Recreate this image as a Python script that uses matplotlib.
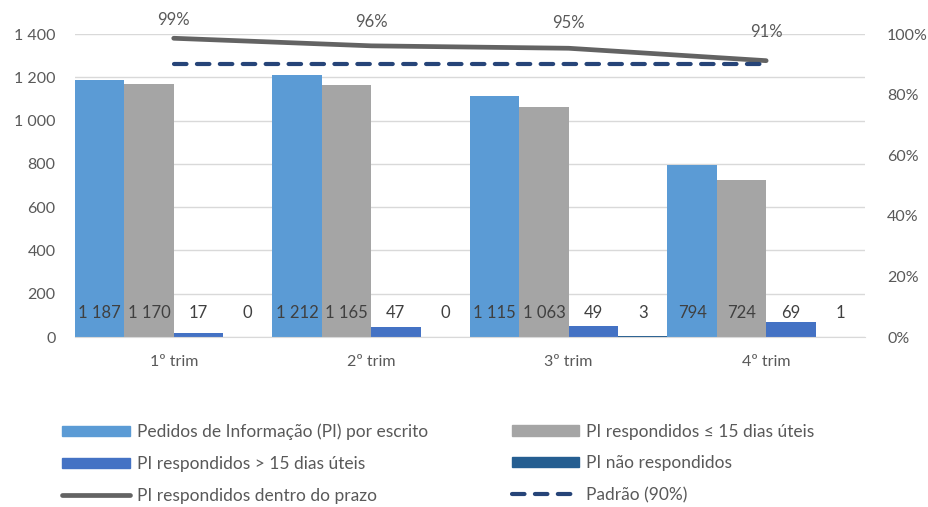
import numpy as np
import matplotlib.pyplot as plt
from matplotlib.ticker import FuncFormatter
from matplotlib.lines import Line2D
from matplotlib.patches import Patch

plt.rcParams['font.family'] = ['Lato', 'DejaVu Sans']

# data
trimestres = ["1º trim", "2º trim", "3º trim", "4º trim"]
pedidos = [1187, 1212, 1115, 794]
resp_ate15 = [1170, 1165, 1063, 724]
resp_mais15 = [17, 47, 49, 69]
nao_resp = [0, 0, 3, 1]
dentro_prazo = [0.986, 0.961, 0.953, 0.912]
padrao = [0.90, 0.90, 0.90, 0.90]

series = [pedidos, resp_ate15, resp_mais15, nao_resp]
nomes = ["Pedidos de Informação (PI) por escrito", "PI respondidos ≤ 15 dias úteis",
         "PI respondidos > 15 dias úteis", "PI não respondidos"]
cores = ["#5B9BD5", "#A5A5A5", "#4472C4", "#255E91"]

txt = "#595959"

fig = plt.figure(figsize=(9.29, 5.07), dpi=100)
ax = fig.add_axes([0.0807, 0.3353, 0.8503, 0.5976])

x = np.arange(len(trimestres))
w = 0.25
for i, (vals, cor) in enumerate(zip(series, cores)):
    pos = x + (i - 1.5) * w
    ax.bar(pos, vals, width=w, color=cor, zorder=2)
    for p, v in zip(pos, vals):
        ax.text(p, 110, "{:,}".format(v).replace(",", " "), ha="center", va="center",
                fontsize=12, color="#404040", zorder=4)

ax.set_xlim(-0.5, 3.5)
ax.set_ylim(0, 1400)
ax.set_yticks(range(0, 1401, 200))
ax.yaxis.set_major_formatter(FuncFormatter(lambda v, p: "{:,}".format(int(v)).replace(",", " ")))
ax.set_xticks(x)
ax.set_xticklabels(trimestres)
ax.grid(axis="y", color="#D9D9D9", linewidth=1, zorder=0)
for s in ["top", "right", "left"]:
    ax.spines[s].set_visible(False)
ax.spines["bottom"].set_color("#D9D9D9")
ax.tick_params(axis="both", length=0, labelsize=11.5, colors=txt)
ax.tick_params(axis="y", pad=14)
ax.tick_params(axis="x", pad=13)

ax2 = ax.twinx()
ax2.set_ylim(0, 1.0)
ax2.set_yticks(np.arange(0, 1.01, 0.2))
ax2.yaxis.set_major_formatter(FuncFormatter(lambda v, p: "{:.0f}%".format(v * 100)))
ax2.tick_params(axis="y", length=0, labelsize=11.5, colors=txt, pad=16)
for s in ax2.spines.values():
    s.set_visible(False)

ax2.plot(x, dentro_prazo, color="#636363", linewidth=3.4, solid_capstyle="round", zorder=3)
ax2.plot(x, padrao, color="#264478", linewidth=3, dashes=(3.0, 2.5),
         dash_capstyle="round", zorder=3)
offs = [13, 17, 18, 21]
for xi, v, o in zip(x, dentro_prazo, offs):
    ax2.annotate("{:.0f}%".format(v * 100), (xi, v), xytext=(0, o), textcoords="offset points",
                 ha="center", va="center", fontsize=12, color=txt)

# legend
h1 = [Patch(color=cores[0]), Patch(color=cores[2]),
      Line2D([], [], color="#636363", linewidth=3.4, solid_capstyle="round")]
h2 = [Patch(color=cores[1]), Patch(color=cores[3]),
      Line2D([], [], color="#264478", linewidth=3, dashes=(3.0, 2.5), dash_capstyle="round")]
kw = dict(frameon=False, fontsize=12.5, handlelength=3.9, handleheight=0.55,
          labelspacing=0.9, handletextpad=0.4, labelcolor=txt, loc="upper left")
fig.legend(h1, [nomes[0], nomes[2], "PI respondidos dentro do prazo"],
           bbox_to_anchor=(0.0498, 0.195), **kw)
fig.legend(h2, [nomes[1], nomes[3], "Padrão (90%)"],
           bbox_to_anchor=(0.534, 0.195), **kw)

fig.savefig("out.png", dpi=100)
